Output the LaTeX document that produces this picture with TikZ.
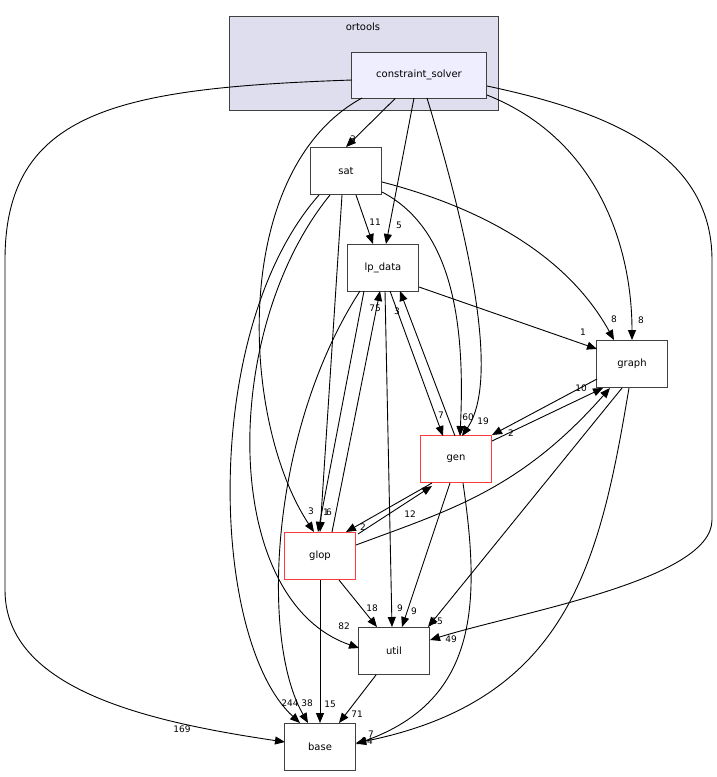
\documentclass[tikz,border=0pt]{standalone}
\usepackage{fontspec}
\setmainfont{DejaVu Sans}
\usetikzlibrary{arrows.meta}
\begin{document}
\begin{tikzpicture}[x=1pt,y=-1pt,line width=0.9pt,
 box/.style={draw=black!75,fill=white,minimum width=71pt,minimum height=47pt,inner sep=0,font=\fontsize{10}{12}\selectfont},
 red/.style={box,draw={rgb,255:red,255;green,60;blue,60}},
 e/.style={draw,-{Triangle[length=10pt,width=8pt]}},
 l/.style={font=\fontsize{9}{10}\selectfont,inner sep=0}]
\useasboundingbox (0,0) rectangle (717,777);
\draw[fill={rgb,255:red,222;green,222;blue,238},draw=black!75] (229,16) rectangle (498,110);
\node[font=\fontsize{10}{12}\selectfont] (ot) at (363,27) {ortools};
\node[box,minimum width=135pt,minimum height=46pt,fill={rgb,255:red,238;green,238;blue,255}] (cs) at (419,75) {constraint\_solver};
\node[box] (sat) at (346,171) {sat};
\node[box] (lp) at (383,268) {lp\_data};
\node[box] (graph) at (632,364) {graph};
\node[red] (gen) at (456,459) {gen};
\node[red] (glop) at (320,556) {glop};
\node[box] (util) at (394,651) {util};
\node[box] (base) at (320,747) {base};
% constraint_solver
\coordinate (a1) at (352,80); \coordinate (b1) at (285,742);
\draw[e] (a1) .. controls (120,88) and (5,110) .. (5,260) -- (5,590) .. controls (5,690) and (150,722) .. (b1);
\coordinate (a2) at (487,86); \coordinate (b2) at (430,640);
\draw[e] (a2) .. controls (600,110) and (712,150) .. (712,260) -- (712,520) .. controls (712,580) and (520,612) .. (b2);
\coordinate (a3) at (487,95);
\draw[e] (a3) .. controls (600,140) and (632,250) .. (graph.north);
\coordinate (a4) at (362,98); \coordinate (b4) at (314,532);
\draw[e] (a4) .. controls (230,170) and (240,420) .. (b4);
\draw[e] (cs) -- (sat.north);
\coordinate (a6) at (414,98); \coordinate (b6) at (386,244);
\draw[e] (a6) -- (b6);
\coordinate (a7) at (427,98); \coordinate (b7) at (462,436);
\draw[e] (a7) .. controls (470,240) and (500,380) .. (b7);
% sat
\coordinate (s1) at (356,195); \coordinate (s1b) at (373,244);
\draw[e] (s1) -- (s1b);
\coordinate (s2) at (382,192); \coordinate (s2b) at (460,436);
\draw[e] (s2) .. controls (455,230) and (465,330) .. (s2b);
\coordinate (s3) at (382,182); \coordinate (s3b) at (614,340);
\draw[e] (s3) .. controls (490,210) and (570,260) .. (s3b);
\coordinate (s4) at (342,195); \coordinate (s4b) at (320,532);
\draw[e] (s4) -- (s4b);
\coordinate (s5) at (330,195); \coordinate (s5b) at (359,648);
\draw[e] (s5) .. controls (220,330) and (220,600) .. (s5b);
\coordinate (s6) at (319,195); \coordinate (s6b) at (300,723);
\draw[e] (s6) .. controls (200,330) and (210,640) .. (s6b);
% lp_data
\coordinate (p1) at (419,287); \coordinate (p1b) at (597,349);
\draw[e] (p1) -- (p1b);
\coordinate (p2) at (390,291); \coordinate (p2b) at (443,436);
\draw[e] (p2) -- (p2b);
\coordinate (p3) at (455,436); \coordinate (p3b) at (400,291);
\draw[e] (p3) -- (p3b);
\coordinate (p4) at (385,291); \coordinate (p4b) at (392,627);
\draw[e] (p4) -- (p4b);
\coordinate (p5) at (364,291); \coordinate (p5b) at (318,532);
\draw[e] (p5) -- (p5b);
\coordinate (p6) at (332,532); \coordinate (p6b) at (380,291);
\draw[e] (p6) -- (p6b);
\coordinate (p7) at (360,291); \coordinate (p7b) at (308,723);
\draw[e] (p7) .. controls (270,430) and (260,640) .. (p7b);
% graph & gen
\coordinate (g1) at (597,379); \coordinate (g1b) at (492,435);
\draw[e] (g1) -- (g1b);
\coordinate (g2) at (492,441); \coordinate (g2b) at (603,388);
\draw[e] (g2) -- (g2b);
\coordinate (g3) at (356,545); \coordinate (g3b) at (610,388);
\draw[e] (g3) .. controls (450,510) and (520,490) .. (g3b);
\coordinate (g4) at (622,388); \coordinate (g4b) at (428,627);
\draw[e] (g4) -- (g4b);
\coordinate (g5) at (629,388); \coordinate (g5b) at (356,743);
\draw[e] (g5) .. controls (600,560) and (570,700) .. (g5b);
\coordinate (n1) at (432,483); \coordinate (n1b) at (346,532);
\draw[e] (n1) -- (n1b);
\coordinate (n2) at (358,534); \coordinate (n2b) at (432,486);
\draw[e] (n2) -- (n2b);
\coordinate (n3) at (450,483); \coordinate (n3b) at (402,627);
\draw[e] (n3) -- (n3b);
\coordinate (n4) at (463,483); \coordinate (n4b) at (356,744);
\draw[e] (n4) .. controls (480,600) and (480,700) .. (n4b);
% glop, util
\coordinate (q1) at (339,580); \coordinate (q1b) at (377,627);
\draw[e] (q1) -- (q1b);
\coordinate (q2) at (320,580); \coordinate (q2b) at (320,723);
\draw[e] (q2) -- (q2b);
\coordinate (q3) at (376,675); \coordinate (q3b) at (339,723);
\draw[e] (q3) -- (q3b);
% labels
\node[l] at (353,139) {3};
\node[l] at (399,225) {5};
\node[l] at (375,222) {11};
\node[l] at (483,421) {19};
\node[l] at (468,417) {60};
\node[l] at (614,319) {8};
\node[l] at (641,320) {8};
\node[l] at (583,332) {1};
\node[l] at (375,308) {75};
\node[l] at (397,311) {3};
\node[l] at (441,415) {7};
\node[l] at (581,388) {10};
\node[l] at (511,433) {2};
\node[l] at (410,514) {12};
\node[l] at (363,527) {2};
\node[l] at (311,511) {3};
\node[l] at (326,512) {1};
\node[l] at (329,512) {6};
\node[l] at (372,608) {18};
\node[l] at (400,608) {9};
\node[l] at (414,611) {9};
\node[l] at (437,621) {15};
\node[l] at (451,639) {49};
\node[l] at (344,626) {82};
\node[l] at (290,703) {244};
\node[l] at (307,703) {38};
\node[l] at (330,704) {15};
\node[l] at (357,714) {71};
\node[l] at (371,734) {7};
\node[l] at (367,741) {84};
\node[l] at (182,729) {169};
\end{tikzpicture}
\end{document}
